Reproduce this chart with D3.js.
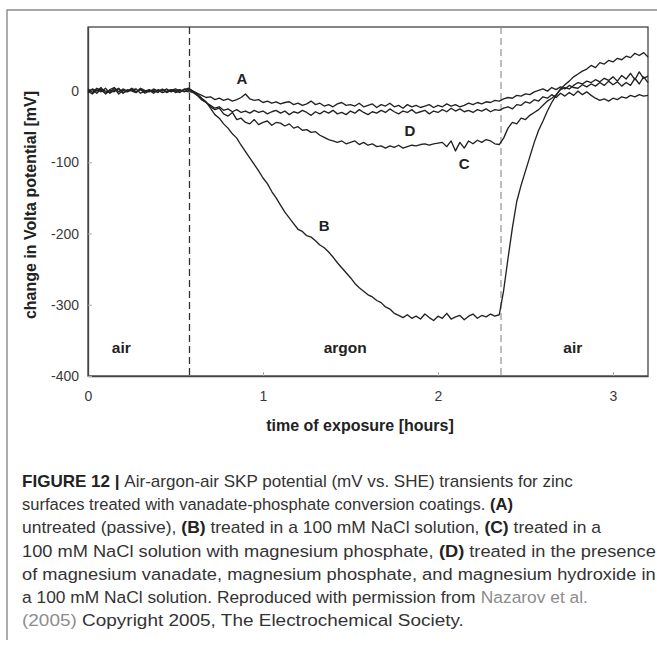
<!DOCTYPE html>
<html><head><meta charset="utf-8">
<script src="https://cdn.jsdelivr.net/npm/d3@7"></script>
<style>
html,body{margin:0;padding:0;background:#fff;}
svg{display:block;}
</style></head>
<body>
<svg id="chart" width="657" height="648"></svg>
<script>
// ---------- data ----------
const timeStep = 0.025; // hours between samples
const seriesNames = ["A", "B", "C", "D"];
const seriesA = [3,-2,4,1,-3,2,5,-1,3,0,2,-2,4,1,-1,3,0,2,-2,1,3,0,2,4,
 0,-3,-6,-9,-8,-12,-10,-13,-11,-14,-12,-9,-4,-11,-13,-12,-16,-14,-17,-15,-18,-16,-15,-19,
 -17,-20,-18,-14,-19,-17,-21,-19,-22,-18,-16,-20,-19,-21,-17,-22,-20,-18,-23,-19,-21,-17,-22,-20,
 -24,-19,-22,-20,-23,-21,-19,-23,-20,-22,-18,-21,-19,-22,-20,-17,-19,-16,-18,-15,-16,-13,-14,-11,
 -9,-10,-6,-7,-4,-5,-1,1,3,0,5,2,6,3,8,5,4,9,6,10,7,12,8,14,9,13,7,12,8,18,10,20,12];
const seriesB = [-2,3,0,5,-4,1,-1,4,-3,2,0,-2,3,-1,1,-3,2,0,3,-1,1,2,-1,3,
 0,-4,-10,-15,-24,-33,-38,-46,-52,-60,-66,-76,-85,-94,-103,-112,-122,-130,-141,-150,-160,-170,-178,-186,
 -194,-197,-203,-205,-210,-216,-220,-226,-233,-241,-248,-255,-262,-270,-276,-281,-286,-289,-294,-297,-303,-306,-312,-315,
 -318,-314,-319,-316,-320,-313,-318,-322,-316,-319,-312,-320,-317,-315,-321,-316,-313,-319,-315,-317,-313,-316,-314,-280,
 -235,-192,-155,-132,-112,-92,-72,-55,-42,-28,-16,-6,3,9,14,20,24,28,31,36,33,40,38,43,41,46,44,49,47,53,50,54,48];
const seriesC = [0,-4,2,-1,4,-3,1,3,-2,0,4,-1,2,-3,0,1,-2,3,-1,2,0,-2,3,1,
 -2,-6,-12,-16,-22,-26,-24,-32,-35,-30,-40,-38,-44,-46,-40,-47,-44,-42,-48,-44,-45,-49,-46,-52,
 -50,-55,-54,-58,-57,-62,-65,-68,-70,-72,-70,-74,-72,-70,-75,-72,-76,-74,-78,-77,-80,-77,-79,-76,
 -80,-78,-76,-77,-75,-74,-76,-74,-73,-72,-78,-70,-84,-72,-80,-70,-74,-69,-72,-68,-70,-74,-75,-66,
 -52,-44,-46,-38,-40,-34,-30,-26,-20,-14,-10,-5,2,5,3,8,12,10,14,12,16,13,18,15,20,14,22,17,25,16,27,18,21];
const seriesD = [1,2,-3,3,0,-2,4,-4,1,-1,2,3,-3,0,2,-1,1,-2,0,2,-2,1,0,-1,
 -1,-6,-12,-16,-20,-24,-22,-27,-25,-29,-26,-30,-28,-31,-27,-30,-28,-32,-29,-27,-31,-28,-33,-29,
 -31,-27,-30,-34,-29,-32,-28,-31,-27,-32,-30,-33,-28,-31,-26,-30,-33,-29,-31,-27,-30,-25,-29,-32,
 -28,-30,-26,-31,-29,-27,-32,-28,-30,-26,-29,-24,-28,-25,-29,-27,-30,-26,-28,-25,-29,-26,-27,-24,
 -22,-25,-19,-20,-15,-17,-12,-14,-8,-10,-5,-9,-3,-7,-2,-6,0,-5,-1,-6,-10,-13,-11,-14,-10,-12,-8,-10,-6,-8,-5,-7,-6];
const seriesData = [seriesA, seriesB, seriesC, seriesD];
const labelPos = [{t:0.88, v:18}, {t:1.35, v:-188}, {t:2.15, v:-101}, {t:1.84, v:-56}];
const gasSwitches = [0.58, 2.36];
const gasLabels = [{t:0.19, text:"air"}, {t:1.47, text:"argon"}, {t:2.77, text:"air"}];
const xTicks = [0, 1, 2, 3];
const yTicks = [0, -100, -200, -300, -400];
const xDomain = [0, 3.2];
const yDomain = [-400, 90];
const xTitle = "time of exposure [hours]";
const yTitle = "change in Volta potential [mV]";
const captionLines = [
 [["FIGURE 12 | ","b"],["Air-argon-air SKP potential (mV vs. SHE) transients for zinc",""]],
 [["surfaces treated with vanadate-phosphate conversion coatings. ",""],["(A)","b"]],
 [["untreated (passive), ",""],["(B)","b"],[" treated in a 100 mM NaCl solution, ",""],["(C)","b"],[" treated in a",""]],
 [["100 mM NaCl solution with magnesium phosphate, ",""],["(D)","b"],[" treated in the presence",""]],
 [["of magnesium vanadate, magnesium phosphate, and magnesium hydroxide in",""]],
 [["a 100 mM NaCl solution. Reproduced with permission from ",""],["Nazarov et al.","l"]],
 [["(2005)","l"],[" Copyright 2005, The Electrochemical Society.",""]]
];
const captionWidths = [551, 491, 579, 634, 634, 566, 442];

// ---------- drawing ----------
const svg = d3.select("#chart");
const FONT = "Liberation Sans, Arial, sans-serif";
const m = {left: 88, right: 648, top: 27, bottom: 376};
const x = d3.scaleLinear().domain(xDomain).range([m.left, m.right]);
const y = d3.scaleLinear().domain(yDomain).range([m.bottom, m.top]);

// outer frame
svg.append("path").attr("d", "M7,640 L7,10 L657,10")
  .attr("fill", "none").attr("stroke", "#8a8a8a").attr("stroke-width", 1.4);

// plot box
svg.append("rect").attr("x", m.left).attr("y", m.top)
  .attr("width", m.right - m.left).attr("height", m.bottom - m.top)
  .attr("fill", "none").attr("stroke", "#444").attr("stroke-width", 1.3);

// axes
const xAxis = svg.append("g").attr("transform", `translate(0,${m.bottom})`)
  .call(d3.axisBottom(x).tickValues(xTicks).tickSizeInner(-4).tickSizeOuter(0).tickPadding(15).tickFormat(d3.format("d")));
const yAxis = svg.append("g").attr("transform", `translate(${m.left},0)`)
  .call(d3.axisLeft(y).tickValues(yTicks).tickSizeInner(-4).tickSizeOuter(0).tickPadding(9).tickFormat(d3.format("d")));
[xAxis, yAxis].forEach(g => {
  g.select(".domain").attr("stroke", "#444").attr("stroke-width", 1.3);
  g.selectAll(".tick line").attr("stroke", "#aaa");
  g.selectAll(".tick text").attr("font-family", FONT)
    .attr("font-size", 14).attr("fill", "#3a3a3a");
});
yAxis.selectAll(".tick text").text(d => d < 0 ? "-" + Math.abs(d) : d);

// gas switch dashed lines
svg.selectAll(".switch").data(gasSwitches).enter().append("line")
  .attr("x1", d => x(d)).attr("x2", d => x(d)).attr("y1", m.top).attr("y2", m.bottom)
  .attr("stroke", (d, i) => i === 0 ? "#333" : "#888")
  .attr("stroke-width", (d, i) => i === 0 ? 1.3 : 1.1)
  .attr("stroke-dasharray", "7,4");

// series lines
const line = d3.line().x((d, i) => x(i * timeStep)).y(d => y(d));
svg.selectAll(".series").data(seriesData).enter().append("path")
  .attr("d", d => line(d)).attr("fill", "none")
  .attr("stroke", "#222").attr("stroke-width", 1.35).attr("stroke-linejoin", "round");

// series labels
svg.selectAll(".slabel").data(labelPos).enter().append("text")
  .attr("x", d => x(d.t)).attr("y", d => y(d.v)).attr("text-anchor", "middle")
  .attr("dominant-baseline", "central")
  .attr("font-family", FONT).attr("font-weight", "bold")
  .attr("font-size", 15).attr("fill", "#222").text((d, i) => seriesNames[i]);

// gas labels
svg.selectAll(".glabel").data(gasLabels).enter().append("text")
  .attr("x", d => x(d.t)).attr("y", y(-360)).attr("text-anchor", "middle")
  .attr("dominant-baseline", "central")
  .attr("font-family", FONT).attr("font-weight", "bold")
  .attr("font-size", 15.5).attr("fill", "#222").text(d => d.text);

// axis titles
svg.append("text").attr("x", 360).attr("y", 431)
  .attr("text-anchor", "middle").attr("font-family", FONT)
  .attr("font-weight", "bold").attr("font-size", 16).attr("fill", "#222").text(xTitle);
svg.append("text").attr("transform", `translate(36,205) rotate(-90)`)
  .attr("text-anchor", "middle").attr("font-family", FONT)
  .attr("font-weight", "bold").attr("font-size", 16).attr("fill", "#222").text(yTitle);

// caption: each line is a horizontally condensed group of adjacent text runs
captionLines.forEach((parts, li) => {
  const g = svg.append("g");
  let cx = 0;
  parts.forEach(p => {
    const t = g.append("text").attr("x", cx).attr("y", 0)
      .attr("font-family", FONT).attr("font-size", 17)
      .attr("font-weight", p[1] === "b" ? "bold" : "normal")
      .attr("fill", p[1] === "l" ? "#8c8c8c" : (p[1] === "b" ? "#222" : "#333"))
      .attr("xml:space", "preserve").style("white-space", "pre")
      .text(p[0]);
    cx += t.node().getComputedTextLength();
  });
  const k = captionWidths[li] / cx;
  g.attr("transform", `translate(22,${487 + li * 23.2}) scale(${k},1)`);
});
</script>
</body></html>
